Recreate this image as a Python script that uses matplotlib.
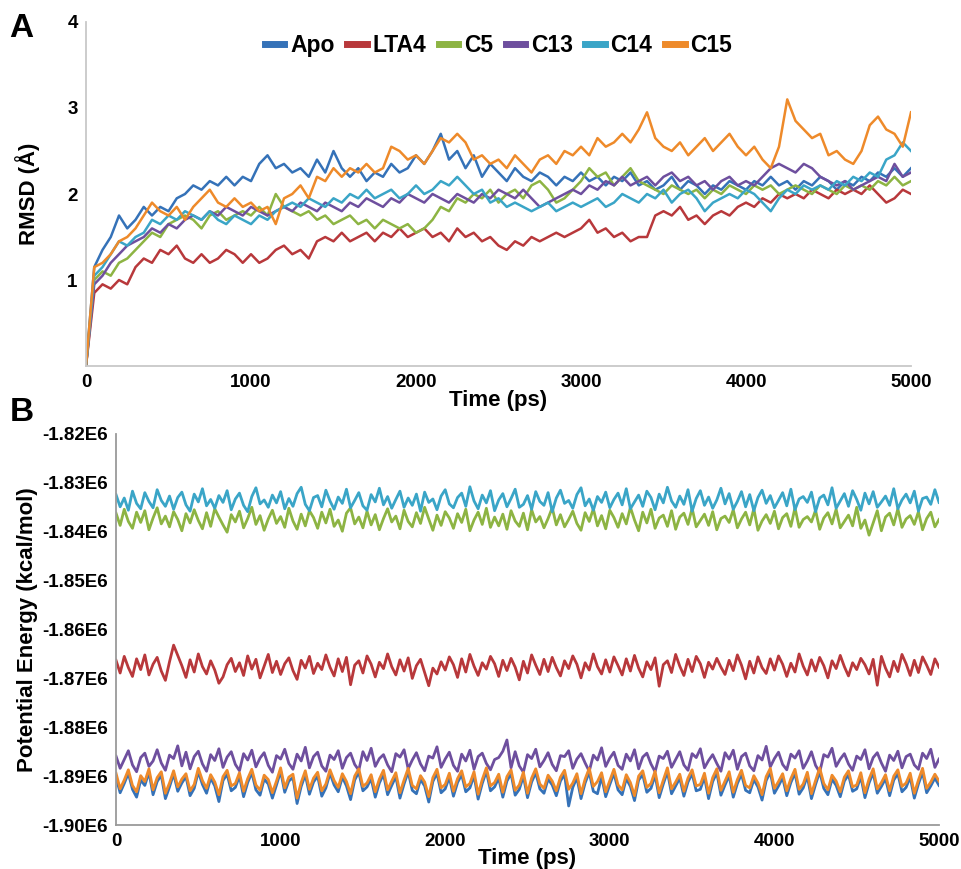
import numpy as np
import matplotlib
matplotlib.use("Agg")
import matplotlib.pyplot as plt
from matplotlib.ticker import FuncFormatter

plt.rcParams['font.family'] = ['Liberation Sans', 'DejaVu Sans']
plt.rcParams['font.weight'] = 'bold'

# ---- data ----
series_names = ["Apo", "LTA4", "C5", "C13", "C14", "C15"]
series_colors = ["#3572b8", "#b8383b", "#8db443", "#6e4f9e", "#3aa5c7", "#ee8a2a"]

# panel A: RMSD (Angstrom), sampled every 50 ps from 0 to 5000 ps
time_a = list(range(0, 5001, 50))

rmsd_apo = [0.0, 1.15, 1.35, 1.5, 1.75, 1.6, 1.7, 1.85, 1.75, 1.85,
            1.8, 1.95, 2.0, 2.1, 2.05, 2.15, 2.1, 2.2, 2.1, 2.2,
            2.15, 2.35, 2.45, 2.3, 2.35, 2.25, 2.3, 2.2, 2.4, 2.25,
            2.5, 2.3, 2.2, 2.3, 2.15, 2.25, 2.2, 2.35, 2.25, 2.3,
            2.45, 2.35, 2.5, 2.7, 2.4, 2.5, 2.3, 2.45, 2.2, 2.35,
            2.25, 2.15, 2.3, 2.2, 2.15, 2.25, 2.2, 2.1, 2.2, 2.15,
            2.25, 2.15, 2.2, 2.1, 2.2, 2.15, 2.25, 2.1, 2.15, 2.05,
            2.1, 2.2, 2.05, 2.15, 2.1, 2.0, 2.1, 2.05, 2.15, 2.1,
            2.05, 2.15, 2.1, 2.2, 2.1, 2.15, 2.05, 2.15, 2.1, 2.2,
            2.15, 2.05, 2.15, 2.1, 2.2, 2.15, 2.25, 2.2, 2.3, 2.2,
            2.3]

rmsd_lta4 = [0.0, 0.85, 0.95, 0.9, 1.0, 0.95, 1.15, 1.25, 1.2, 1.35,
             1.3, 1.4, 1.25, 1.2, 1.3, 1.2, 1.25, 1.35, 1.3, 1.2,
             1.3, 1.2, 1.25, 1.35, 1.4, 1.3, 1.35, 1.25, 1.45, 1.5,
             1.45, 1.55, 1.45, 1.5, 1.55, 1.45, 1.55, 1.5, 1.6, 1.5,
             1.55, 1.6, 1.5, 1.55, 1.45, 1.6, 1.5, 1.55, 1.45, 1.5,
             1.4, 1.35, 1.45, 1.4, 1.5, 1.45, 1.5, 1.55, 1.5, 1.55,
             1.6, 1.7, 1.55, 1.6, 1.5, 1.55, 1.45, 1.5, 1.5, 1.75,
             1.8, 1.75, 1.85, 1.7, 1.75, 1.65, 1.75, 1.8, 1.75, 1.85,
             1.9, 1.85, 1.95, 1.9, 2.0, 1.95, 2.0, 1.95, 2.05, 2.0,
             1.95, 2.05, 2.0, 2.05, 2.0, 2.1, 2.0, 1.9, 1.95, 2.05,
             2.0]

rmsd_c5 = [0.0, 1.0, 1.1, 1.05, 1.2, 1.25, 1.35, 1.45, 1.55, 1.5,
           1.65, 1.7, 1.75, 1.7, 1.6, 1.75, 1.8, 1.7, 1.75, 1.8,
           1.75, 1.85, 1.75, 2.0, 1.85, 1.8, 1.75, 1.8, 1.7, 1.75,
           1.65, 1.7, 1.75, 1.65, 1.7, 1.6, 1.7, 1.65, 1.6, 1.65,
           1.55, 1.6, 1.7, 1.85, 1.8, 1.95, 1.9, 2.0, 1.95, 2.05,
           1.9, 2.0, 2.05, 1.95, 2.1, 2.15, 2.05, 1.9, 1.95, 2.05,
           2.15, 2.3, 2.2, 2.25, 2.1, 2.2, 2.3, 2.15, 2.1, 2.05,
           2.0, 2.1, 2.05, 2.0, 2.05, 1.95, 2.05, 2.0, 2.1, 2.05,
           2.0, 2.1, 2.05, 2.1, 2.0, 2.05, 2.1, 2.05, 2.0, 2.1,
           2.05, 2.0, 2.1, 2.05, 2.1, 2.05, 2.15, 2.1, 2.2, 2.1,
           2.15]

rmsd_c13 = [0.0, 0.95, 1.05, 1.2, 1.3, 1.4, 1.45, 1.5, 1.6, 1.55,
            1.65, 1.6, 1.7, 1.75, 1.7, 1.8, 1.75, 1.85, 1.8, 1.75,
            1.85, 1.8, 1.75, 1.8, 1.85, 1.8, 1.9, 1.85, 1.8, 1.9,
            1.85, 1.8, 1.9, 1.85, 1.95, 1.9, 1.85, 1.95, 1.9, 2.0,
            1.95, 1.9, 2.0, 1.95, 1.9, 2.0, 1.95, 1.9, 2.0, 1.95,
            2.05, 2.0, 1.95, 2.05, 1.95, 1.85, 1.9, 1.95, 2.0, 2.05,
            2.0, 2.1, 2.05, 2.15, 2.1, 2.2, 2.1, 2.15, 2.2, 2.1,
            2.2, 2.25, 2.15, 2.2, 2.1, 2.15, 2.05, 2.15, 2.2, 2.1,
            2.15, 2.1, 2.2, 2.3, 2.35, 2.3, 2.25, 2.35, 2.3, 2.2,
            2.15, 2.1, 2.15, 2.05, 2.1, 2.15, 2.2, 2.15, 2.35, 2.2,
            2.25]

rmsd_c14 = [0.0, 1.05, 1.15, 1.3, 1.45, 1.4, 1.5, 1.55, 1.7, 1.65,
            1.75, 1.7, 1.8, 1.75, 1.7, 1.8, 1.7, 1.65, 1.75, 1.7,
            1.65, 1.75, 1.7, 1.8, 1.85, 1.9, 1.85, 1.95, 1.9, 1.85,
            1.95, 1.9, 2.0, 1.95, 2.05, 1.95, 2.0, 2.05, 1.95, 2.0,
            2.1, 2.0, 2.05, 2.15, 2.1, 2.2, 2.1, 2.0, 2.05, 1.9,
            1.95, 1.85, 1.9, 1.85, 1.8, 1.85, 1.9, 1.8, 1.85, 1.9,
            1.85, 1.9, 1.95, 1.85, 1.9, 2.0, 1.95, 1.9, 2.0, 1.95,
            2.05, 1.9, 2.0, 2.05, 1.95, 1.8, 1.9, 1.95, 2.0, 1.95,
            2.05, 2.0, 1.9, 1.8, 1.95, 2.05, 2.0, 2.1, 2.05, 2.1,
            2.05, 2.15, 2.1, 2.2, 2.15, 2.25, 2.2, 2.4, 2.45, 2.6,
            2.5]

rmsd_c15 = [0.0, 1.15, 1.2, 1.3, 1.45, 1.5, 1.6, 1.75, 1.9, 1.8,
            1.75, 1.85, 1.7, 1.85, 1.95, 2.05, 1.9, 1.85, 1.95, 1.85,
            1.9, 1.8, 1.85, 1.65, 1.95, 2.0, 2.1, 1.95, 2.2, 2.15,
            2.3, 2.2, 2.3, 2.25, 2.35, 2.25, 2.3, 2.55, 2.5, 2.4,
            2.45, 2.35, 2.5, 2.65, 2.6, 2.7, 2.6, 2.4, 2.45, 2.35,
            2.4, 2.3, 2.45, 2.35, 2.25, 2.4, 2.45, 2.35, 2.5, 2.45,
            2.55, 2.45, 2.65, 2.55, 2.6, 2.7, 2.6, 2.75, 2.95, 2.65,
            2.55, 2.5, 2.6, 2.45, 2.55, 2.65, 2.5, 2.6, 2.7, 2.55,
            2.45, 2.55, 2.4, 2.3, 2.55, 3.1, 2.85, 2.75, 2.65, 2.7,
            2.45, 2.5, 2.4, 2.35, 2.5, 2.8, 2.9, 2.75, 2.7, 2.55,
            2.95]

# panel B: potential energy (x1000 kcal/mol), sampled every 25 ps
time_b = list(range(0, 5001, 25))

energy_apo = [
    -1890.2, -1893.4, -1891.5, -1889.4, -1892.7, -1894.3, -1890.8, -1891.9, -1889.2, -1893.8,
    -1891.1, -1889.8, -1894.6, -1892.2, -1889.5, -1893.1, -1891.4, -1890.1, -1894.0, -1892.5,
    -1889.1, -1891.7, -1893.5, -1890.4, -1892.0, -1895.2, -1890.9, -1889.6, -1893.0, -1892.3,
    -1890.0, -1894.2, -1891.3, -1889.3, -1892.8, -1893.9, -1890.6, -1891.6, -1894.5, -1891.8,
    -1889.0, -1893.3, -1891.0, -1890.3, -1895.6, -1892.1, -1889.7, -1893.7, -1891.2, -1890.0,
    -1894.1, -1892.4, -1889.4, -1891.8, -1893.2, -1890.2, -1892.0, -1894.8, -1890.8, -1889.2,
    -1893.0, -1892.2, -1890.5, -1894.3, -1891.4, -1889.6, -1893.8, -1891.9, -1890.1, -1894.5,
    -1891.6, -1889.1, -1892.9, -1893.6, -1890.7, -1892.0, -1895.3, -1891.1, -1889.4, -1893.4,
    -1892.6, -1890.2, -1894.1, -1891.3, -1889.7, -1893.2, -1892.4, -1889.9, -1894.7, -1891.5,
    -1889.0, -1893.0, -1892.2, -1890.4, -1894.3, -1891.0, -1889.5, -1893.9, -1892.7, -1890.0,
    -1894.4, -1891.2, -1889.3, -1892.6, -1893.5, -1890.6, -1891.8, -1894.0, -1891.0, -1889.6,
    -1896.1, -1892.3, -1890.3, -1894.6, -1891.4, -1889.2, -1893.1, -1893.6, -1890.1, -1894.2,
    -1891.7, -1889.4, -1892.8, -1893.8, -1890.5, -1892.1, -1895.0, -1890.8, -1889.7, -1893.3,
    -1892.5, -1889.8, -1894.4, -1891.6, -1889.1, -1893.6, -1892.0, -1890.4, -1894.1, -1891.2,
    -1889.5, -1893.0, -1892.7, -1890.2, -1894.6, -1891.1, -1889.3, -1893.9, -1891.8, -1889.9,
    -1894.3, -1891.5, -1889.6, -1892.9, -1893.4, -1890.7, -1892.2, -1894.9, -1890.9, -1889.2,
    -1893.5, -1892.0, -1890.3, -1894.0, -1891.3, -1889.4, -1893.7, -1892.4, -1890.0, -1894.6,
    -1891.7, -1889.1, -1892.5, -1893.8, -1890.6, -1891.9, -1894.2, -1891.0, -1889.7, -1893.1,
    -1892.6, -1890.1, -1894.4, -1891.4, -1889.3, -1893.5, -1892.1, -1890.5, -1894.0, -1890.8,
    -1889.5, -1893.2, -1892.3, -1890.2, -1894.5, -1891.6, -1889.2, -1893.4, -1892.0, -1890.4,
    -1891.9]

energy_lta4 = [
    -1866.3, -1868.9, -1865.5, -1867.8, -1869.6, -1866.0, -1868.2, -1865.2, -1869.3, -1867.1,
    -1865.7, -1868.5, -1870.4, -1866.6, -1863.2, -1865.3, -1867.4, -1869.8, -1866.2, -1868.7,
    -1865.0, -1867.6, -1869.1, -1866.4, -1868.3, -1871.0, -1869.7, -1867.2, -1865.9, -1868.6,
    -1866.8, -1869.4, -1865.4, -1868.1, -1866.1, -1869.9, -1867.5, -1865.1, -1868.8, -1866.5,
    -1869.2, -1867.0, -1865.8, -1868.4, -1870.2, -1866.3, -1867.9, -1865.5, -1869.0, -1866.9,
    -1868.2, -1865.2, -1867.7, -1869.5, -1866.0, -1868.6, -1865.7, -1871.3, -1867.3, -1866.4,
    -1868.9, -1865.4, -1867.1, -1869.7, -1866.7, -1868.0, -1865.0, -1867.6, -1869.3, -1866.2,
    -1868.5, -1865.8, -1870.0, -1867.4, -1866.1, -1868.8, -1871.5, -1867.9, -1869.1, -1866.6,
    -1868.3, -1865.6, -1867.2, -1869.8, -1866.0, -1868.7, -1865.1, -1867.5, -1869.4, -1866.8,
    -1868.1, -1865.5, -1867.0, -1869.6, -1866.3, -1868.4, -1865.9, -1867.7, -1870.3, -1866.5,
    -1868.9, -1865.2, -1867.3, -1869.2, -1866.1, -1868.6, -1865.7, -1867.8, -1869.5, -1866.4,
    -1868.0, -1865.4, -1867.1, -1869.9, -1866.8, -1868.3, -1865.0, -1867.6, -1869.1, -1866.2,
    -1868.7, -1865.6, -1867.4, -1869.3, -1866.0, -1868.5, -1865.3, -1867.9, -1869.7, -1866.6,
    -1868.2, -1865.8, -1871.6, -1867.2, -1866.4, -1868.8, -1865.1, -1867.5, -1869.4, -1866.1,
    -1868.6, -1865.5, -1867.0, -1869.8, -1866.7, -1868.1, -1865.9, -1867.7, -1869.2, -1866.3,
    -1868.4, -1865.2, -1867.3, -1870.1, -1866.5, -1868.9, -1865.6, -1867.8, -1869.0, -1866.0,
    -1868.3, -1865.4, -1867.1, -1869.6, -1866.9, -1868.7, -1865.0, -1867.5, -1869.3, -1866.2,
    -1868.5, -1865.7, -1867.4, -1869.9, -1866.4, -1868.0, -1865.3, -1867.6, -1869.5, -1866.8,
    -1868.2, -1865.9, -1867.2, -1869.1, -1866.1, -1871.4, -1865.5, -1867.9, -1869.7, -1866.5,
    -1868.6, -1865.1, -1867.0, -1869.4, -1866.3, -1868.8, -1865.6, -1867.3, -1869.2, -1866.0,
    -1867.7]

energy_c5 = [
    -1836.2, -1838.7, -1835.4, -1837.9, -1839.3, -1836.0, -1838.1, -1835.7, -1839.6, -1837.2,
    -1835.1, -1838.4, -1836.8, -1839.0, -1835.9, -1837.5, -1839.8, -1836.3, -1838.2, -1835.5,
    -1837.7, -1839.4, -1836.1, -1838.9, -1835.3, -1837.0, -1838.6, -1840.1, -1836.5, -1838.0,
    -1835.8, -1839.2, -1837.3, -1835.0, -1838.5, -1836.7, -1839.7, -1837.4, -1835.6, -1838.3,
    -1836.9, -1839.1, -1835.2, -1837.8, -1839.5, -1836.4, -1838.8, -1835.7, -1837.1, -1839.3,
    -1836.0, -1838.2, -1835.4, -1838.9, -1837.6, -1839.9, -1836.2, -1835.1, -1838.4, -1837.0,
    -1839.2, -1835.8, -1838.6, -1836.5, -1839.6, -1837.3, -1835.3, -1838.0, -1836.8, -1839.4,
    -1835.6, -1837.9, -1839.0, -1836.1, -1838.3, -1835.0, -1837.4, -1839.7, -1836.6, -1838.7,
    -1835.9, -1837.2, -1839.3, -1836.3, -1838.1, -1835.4, -1839.8, -1837.6, -1836.0, -1838.5,
    -1835.2, -1839.1, -1837.0, -1838.8, -1836.4, -1839.5, -1835.7, -1837.8, -1838.9, -1836.2,
    -1839.6, -1835.5, -1838.0, -1836.9, -1839.2, -1837.3, -1835.1, -1838.6, -1836.5, -1839.0,
    -1837.5, -1835.8, -1838.3, -1839.7, -1836.1, -1837.9, -1835.3, -1838.8, -1836.7, -1839.4,
    -1835.6, -1837.1, -1839.1, -1836.3, -1838.4, -1835.0, -1837.6, -1839.8, -1836.0, -1838.2,
    -1835.4, -1839.3, -1837.2, -1836.6, -1838.9, -1835.7, -1839.5, -1837.0, -1836.2, -1838.5,
    -1835.2, -1839.0, -1837.7, -1836.4, -1838.7, -1835.9, -1839.6, -1837.3, -1836.8, -1838.1,
    -1835.5, -1839.2, -1837.4, -1836.0, -1838.6, -1835.3, -1839.7, -1837.8, -1836.5, -1838.3,
    -1835.8, -1839.4, -1837.1, -1836.3, -1838.9, -1835.1, -1839.1, -1837.5, -1836.9, -1838.0,
    -1835.6, -1839.5, -1837.2, -1836.1, -1838.4, -1835.4, -1839.2, -1837.9, -1836.6, -1838.8,
    -1835.0, -1839.3, -1837.6, -1840.7, -1838.2, -1835.7, -1839.8, -1837.0, -1836.2, -1838.6,
    -1835.3, -1839.1, -1837.4, -1836.7, -1838.5, -1835.9, -1839.6, -1837.3, -1836.0, -1839.0,
    -1837.5]

energy_c13 = [
    -1885.9, -1888.4, -1886.6, -1884.8, -1887.7, -1889.1, -1886.2, -1885.3, -1888.0, -1886.9,
    -1884.6, -1887.3, -1888.8, -1885.7, -1886.4, -1883.8, -1887.9, -1885.1, -1888.5, -1886.0,
    -1884.9, -1887.5, -1889.0, -1885.6, -1886.8, -1884.4, -1888.2, -1886.1, -1885.0, -1887.6,
    -1888.9, -1885.4, -1886.7, -1884.7, -1888.1, -1886.3, -1885.2, -1887.8, -1889.2, -1885.8,
    -1886.5, -1884.5, -1887.4, -1888.6, -1885.5, -1886.9, -1884.1, -1888.3, -1886.0, -1885.1,
    -1887.9, -1889.0, -1885.7, -1886.6, -1884.8, -1888.4, -1886.2, -1885.3, -1887.6, -1888.8,
    -1885.0, -1886.8, -1884.3, -1888.0, -1886.4, -1885.6, -1887.7, -1889.1, -1885.4, -1886.1,
    -1884.6, -1888.5, -1886.7, -1885.2, -1887.5, -1888.9, -1885.9, -1886.3, -1884.0, -1888.2,
    -1886.5, -1885.1, -1887.8, -1889.0, -1885.5, -1886.9, -1884.7, -1888.6, -1886.0, -1885.3,
    -1887.4, -1888.7, -1886.6, -1886.2, -1884.9, -1882.6, -1888.3, -1885.0, -1887.9, -1889.2,
    -1885.6, -1886.4, -1884.5, -1888.1, -1886.8, -1885.2, -1887.6, -1888.9, -1885.8, -1886.0,
    -1884.8, -1888.4, -1886.5, -1885.4, -1887.3, -1889.0, -1885.7, -1886.7, -1884.2, -1888.0,
    -1886.3, -1885.1, -1887.8, -1888.6, -1885.5, -1886.9, -1884.6, -1888.5, -1886.1, -1885.3,
    -1887.5, -1889.1, -1885.9, -1886.4, -1884.9, -1888.2, -1886.6, -1885.0, -1887.7, -1888.8,
    -1885.4, -1886.2, -1884.4, -1888.3, -1886.8, -1885.6, -1887.4, -1889.0, -1885.2, -1886.5,
    -1884.7, -1888.6, -1886.0, -1885.3, -1887.9, -1888.9, -1885.8, -1886.7, -1883.9, -1888.1,
    -1886.4, -1885.1, -1887.6, -1888.7, -1885.5, -1886.3, -1884.8, -1888.4, -1886.9, -1885.0,
    -1887.8, -1889.2, -1885.6, -1886.1, -1884.3, -1888.0, -1886.5, -1885.4, -1887.5, -1888.8,
    -1885.9, -1886.6, -1884.6, -1888.5, -1886.2, -1885.2, -1887.3, -1889.0, -1885.7, -1886.8,
    -1884.9, -1888.3, -1886.0, -1885.5, -1887.7, -1888.6, -1885.3, -1886.4, -1884.5, -1888.2,
    -1886.5]

energy_c14 = [
    -1832.4, -1834.9, -1833.1, -1835.6, -1831.7, -1834.2, -1835.3, -1832.0, -1833.8, -1835.1,
    -1831.4, -1833.6, -1834.8, -1832.7, -1835.4, -1833.0, -1831.9, -1834.5, -1835.8, -1832.3,
    -1833.9, -1831.2, -1834.7, -1833.4, -1835.2, -1832.6, -1834.0, -1831.6, -1835.5, -1833.3,
    -1832.1, -1834.6, -1835.9, -1832.8, -1831.0, -1834.3, -1833.5, -1835.0, -1832.5, -1834.1,
    -1831.8, -1835.3, -1833.2, -1834.8, -1832.2, -1830.9, -1834.4, -1835.7, -1833.0, -1832.6,
    -1834.9, -1831.5, -1833.7, -1835.4, -1832.9, -1834.2, -1831.3, -1835.1, -1833.6, -1832.0,
    -1834.7, -1835.6, -1832.4, -1833.9, -1831.1, -1834.5, -1832.8, -1835.2, -1833.4, -1831.7,
    -1835.0, -1833.1, -1834.6, -1832.3, -1835.8, -1831.9, -1834.0, -1833.3, -1835.5, -1832.7,
    -1831.4, -1834.3, -1835.1, -1833.0, -1832.1, -1834.8, -1830.8, -1833.7, -1835.3, -1832.5,
    -1834.1, -1831.6, -1835.7, -1833.5, -1832.2, -1834.9, -1833.2, -1831.3, -1835.0, -1834.4,
    -1832.6, -1835.4, -1831.8, -1833.8, -1834.6, -1832.0, -1835.9, -1833.1, -1831.5, -1834.2,
    -1833.6, -1835.2, -1832.4, -1831.0, -1834.7, -1833.3, -1835.6, -1832.8, -1834.0, -1831.9,
    -1835.1, -1833.4, -1832.1, -1834.5, -1831.2, -1835.3, -1833.9, -1832.5, -1834.8, -1831.7,
    -1833.0, -1835.5, -1832.3, -1834.1, -1830.9, -1833.7, -1835.0, -1832.7, -1834.4, -1831.4,
    -1835.8, -1833.2, -1831.6, -1834.6, -1832.9, -1835.2, -1833.5, -1831.1, -1834.3, -1832.2,
    -1835.4, -1833.8, -1831.8, -1834.9, -1832.4, -1835.7, -1833.0, -1831.5, -1834.2, -1832.6,
    -1835.1, -1833.6, -1832.0, -1834.7, -1831.3, -1835.5, -1833.3, -1832.8, -1834.0, -1831.9,
    -1835.9, -1833.1, -1832.5, -1834.5, -1831.0, -1835.2, -1833.7, -1832.2, -1834.8, -1831.6,
    -1833.4, -1835.6, -1832.1, -1834.3, -1831.8, -1835.0, -1833.9, -1832.7, -1834.6, -1831.2,
    -1835.3, -1833.5, -1832.3, -1834.1, -1831.7, -1835.8, -1833.2, -1832.9, -1834.4, -1831.4,
    -1834.0]

energy_c15 = [
    -1889.4, -1892.6, -1890.8, -1888.7, -1891.9, -1893.2, -1889.9, -1891.1, -1888.5, -1892.8,
    -1890.3, -1889.1, -1893.5, -1891.4, -1888.9, -1892.2, -1890.6, -1889.5, -1893.0, -1891.7,
    -1888.4, -1890.9, -1892.5, -1889.7, -1891.2, -1893.8, -1890.1, -1888.8, -1892.0, -1891.5,
    -1889.3, -1893.1, -1890.5, -1888.6, -1891.8, -1892.9, -1889.8, -1890.7, -1893.4, -1891.0,
    -1888.3, -1892.4, -1890.2, -1889.6, -1894.5, -1891.3, -1888.9, -1892.7, -1890.4, -1889.2,
    -1893.0, -1891.6, -1888.7, -1890.9, -1892.3, -1889.5, -1891.1, -1893.6, -1890.0, -1888.5,
    -1892.1, -1891.4, -1889.7, -1893.2, -1890.6, -1888.8, -1892.8, -1891.0, -1889.3, -1893.4,
    -1890.8, -1888.4, -1891.9, -1892.6, -1889.9, -1891.2, -1894.2, -1890.3, -1888.6, -1892.4,
    -1891.7, -1889.4, -1893.1, -1890.5, -1888.9, -1892.2, -1891.5, -1889.1, -1893.7, -1890.7,
    -1888.3, -1892.0, -1891.3, -1889.6, -1893.3, -1890.1, -1888.7, -1892.9, -1891.8, -1889.2,
    -1893.5, -1890.4, -1888.5, -1891.6, -1892.5, -1889.8, -1891.0, -1893.0, -1890.2, -1888.8,
    -1892.7, -1891.4, -1889.5, -1893.6, -1890.6, -1888.4, -1892.1, -1891.1, -1889.3, -1893.2,
    -1890.9, -1888.6, -1891.8, -1892.8, -1889.7, -1891.3, -1894.0, -1890.0, -1888.9, -1892.3,
    -1891.5, -1889.0, -1893.4, -1890.8, -1888.3, -1892.6, -1891.2, -1889.6, -1893.1, -1890.4,
    -1888.7, -1892.0, -1891.7, -1889.4, -1893.5, -1890.3, -1888.5, -1892.9, -1891.0, -1889.1,
    -1893.3, -1890.7, -1888.8, -1891.9, -1892.4, -1889.9, -1891.4, -1893.8, -1890.1, -1888.4,
    -1892.5, -1891.1, -1889.5, -1893.0, -1890.5, -1888.6, -1892.7, -1891.6, -1889.2, -1893.6,
    -1890.9, -1888.3, -1891.5, -1892.8, -1889.8, -1891.0, -1893.2, -1890.2, -1888.9, -1892.2,
    -1891.8, -1889.3, -1893.4, -1890.6, -1888.5, -1892.6, -1891.3, -1889.7, -1893.0, -1890.0,
    -1888.7, -1892.1, -1891.4, -1889.4, -1893.5, -1890.8, -1888.4, -1892.5, -1891.2, -1889.6,
    -1891.0]

rmsd_series = [rmsd_apo, rmsd_lta4, rmsd_c5, rmsd_c13, rmsd_c14, rmsd_c15]
energy_series = [energy_apo, energy_lta4, energy_c5, energy_c13, energy_c14, energy_c15]

x_ticks = [0, 1000, 2000, 3000, 4000, 5000]
rmsd_ticks = [1, 2, 3, 4]
energy_ticks = [-1.90e6, -1.89e6, -1.88e6, -1.87e6, -1.86e6, -1.85e6, -1.84e6, -1.83e6, -1.82e6]


def style_axes(ax, spine_color):
    for side in ["top", "right"]:
        ax.spines[side].set_visible(False)
    for side in ["left", "bottom"]:
        ax.spines[side].set_color(spine_color)
        ax.spines[side].set_linewidth(1.3)
    ax.tick_params(length=0, labelsize=13.5, pad=6)
    for lab in ax.get_xticklabels() + ax.get_yticklabels():
        lab.set_fontweight("bold")


def main():
    fig = plt.figure(figsize=(9.62, 8.69), dpi=100)

    # ---- panel A ----
    ax1 = fig.add_axes([0.0894, 0.5788, 0.8576, 0.3959])
    for vals, name, col in zip(rmsd_series, series_names, series_colors):
        ax1.plot(time_a, vals, color=col, lw=1.8, label=name)
    ax1.set_xlim(0, 5000)
    ax1.set_ylim(0, 4)
    ax1.set_xticks(x_ticks)
    ax1.set_yticks(rmsd_ticks)
    style_axes(ax1, "#c8c8c8")
    ax1.set_xlabel("Time (ps)", fontsize=16, fontweight="bold", labelpad=-1)
    ax1.set_ylabel("RMSD (Å)", fontsize=16, fontweight="bold")
    ax1.yaxis.set_label_coords(-0.056, 0.5)
    leg = ax1.legend(loc="upper center", bbox_to_anchor=(0.5, 1.025), ncol=6, frameon=False,
                     handlelength=0.85, handletextpad=0.25, columnspacing=0.55,
                     prop={"size": 16.5, "weight": "bold"})
    for h in leg.get_lines():
        h.set_linewidth(5)

    # ---- panel B ----
    ax2 = fig.add_axes([0.1206, 0.0506, 0.8555, 0.45])
    for vals, name, col in zip(energy_series, series_names, series_colors):
        ax2.plot(time_b, np.array(vals) * 1000.0, color=col, lw=2.0, label=name)
    ax2.set_xlim(0, 5000)
    ax2.set_ylim(-1.90e6, -1.82e6)
    ax2.set_xticks(x_ticks)
    ax2.set_yticks(energy_ticks)
    ax2.yaxis.set_major_formatter(FuncFormatter(lambda v, p: f"{v / 1e6:.2f}E6"))
    style_axes(ax2, "#9a9a9a")
    ax2.set_xlabel("Time (ps)", fontsize=16, fontweight="bold", labelpad=-2)
    ax2.set_ylabel("Potential Energy (kcal/mol)", fontsize=16, fontweight="bold")
    ax2.yaxis.set_label_coords(-0.095, 0.5)

    fig.text(0.010, 0.957, "A", fontsize=24, fontweight="bold")
    fig.text(0.010, 0.515, "B", fontsize=24, fontweight="bold")

    fig.savefig("out.png", dpi=100)


if __name__ == "__main__":
    main()
